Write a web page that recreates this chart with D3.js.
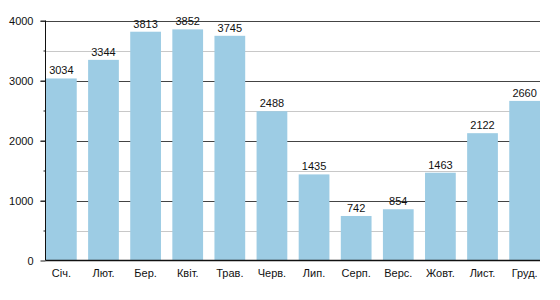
<!DOCTYPE html>
<html><head><meta charset="utf-8">
<script src="https://cdn.jsdelivr.net/npm/d3@7"></script>
<style>body{margin:0;background:#fff}svg{display:block}text{font-family:"Liberation Sans",Arial,sans-serif}</style>
</head><body>
<svg id="c" width="560" height="300"></svg>
<script>
const months = ["Січ.","Лют.","Бер.","Квіт.","Трав.","Черв.","Лип.","Серп.","Верс.","Жовт.","Лист.","Груд."];
const values = [3034,3344,3813,3852,3745,2488,1435,742,854,1463,2122,2660];
const majorTicks = [0,1000,2000,3000,4000];
const minorTicks = [500,1500,2500,3500];

(function(){
const svg = d3.select("#c");
const mLeft = 45.5, mRight = 540, mTop = 20.5, mBottom = 260.5;
const x = d3.scaleBand().domain(months).range([mLeft+0.5, mRight]).paddingInner(0.27).paddingOuter(0);
const y = d3.scaleLinear().domain([0,4000]).range([mBottom, mTop]);

svg.append("g").selectAll("line").data(minorTicks).join("line")
  .attr("x1", mLeft).attr("x2", mRight).attr("y1", d=>Math.round(y(d))+0.5).attr("y2", d=>Math.round(y(d))+0.5)
  .attr("stroke","#c8c8c8").attr("stroke-width",1);
svg.append("g").selectAll("line").data(majorTicks.filter(d=>d>0)).join("line")
  .attr("x1", mLeft-5).attr("x2", mRight).attr("y1", d=>Math.round(y(d))+0.5).attr("y2", d=>Math.round(y(d))+0.5)
  .attr("stroke","#444").attr("stroke-width",1);

svg.append("g").selectAll("rect").data(values).join("rect")
  .attr("x",(d,i)=>x(months[i])).attr("width",x.bandwidth())
  .attr("y",d=>y(d)).attr("height",d=>mBottom-y(d))
  .attr("fill","#9dcce4");

svg.append("g").selectAll("text").data(values).join("text")
  .attr("x",(d,i)=>x(months[i])+x.bandwidth()/2).attr("y",d=>y(d)-4)
  .attr("text-anchor","middle").attr("font-size",11).attr("fill","#111").text(d=>d);

const yAxis = d3.axisLeft(y).tickValues(majorTicks).tickSize(5).tickPadding(7).tickFormat(d3.format("d"));
const gy = svg.append("g").attr("transform",`translate(${mLeft},0)`).call(yAxis);
gy.select(".domain").remove();
gy.selectAll("text").attr("font-size",11).attr("fill","#111").attr("font-family","Liberation Sans, Arial, sans-serif");
gy.selectAll("line").attr("stroke","#222");
const yMinor = d3.axisLeft(y).tickValues(minorTicks).tickSize(2).tickFormat("");
const gm = svg.append("g").attr("transform",`translate(${mLeft},0)`).call(yMinor);
gm.select(".domain").remove();
gm.selectAll("line").attr("stroke","#222");
svg.append("line").attr("x1",mLeft).attr("x2",mLeft).attr("y1",mTop).attr("y2",mBottom).attr("stroke","#111");

const xAxis = d3.axisBottom(x).tickSize(0).tickPadding(9);
const gx = svg.append("g").attr("transform",`translate(0,${mBottom})`).call(xAxis);
gx.select(".domain").remove();
gx.selectAll("text").attr("font-size",11).attr("fill","#111").attr("font-family","Liberation Sans, Arial, sans-serif");
svg.append("line").attr("x1",mLeft).attr("x2",mRight).attr("y1",mBottom).attr("y2",mBottom).attr("stroke","#111").attr("stroke-width",1.5);
})();
</script>
</body></html>
